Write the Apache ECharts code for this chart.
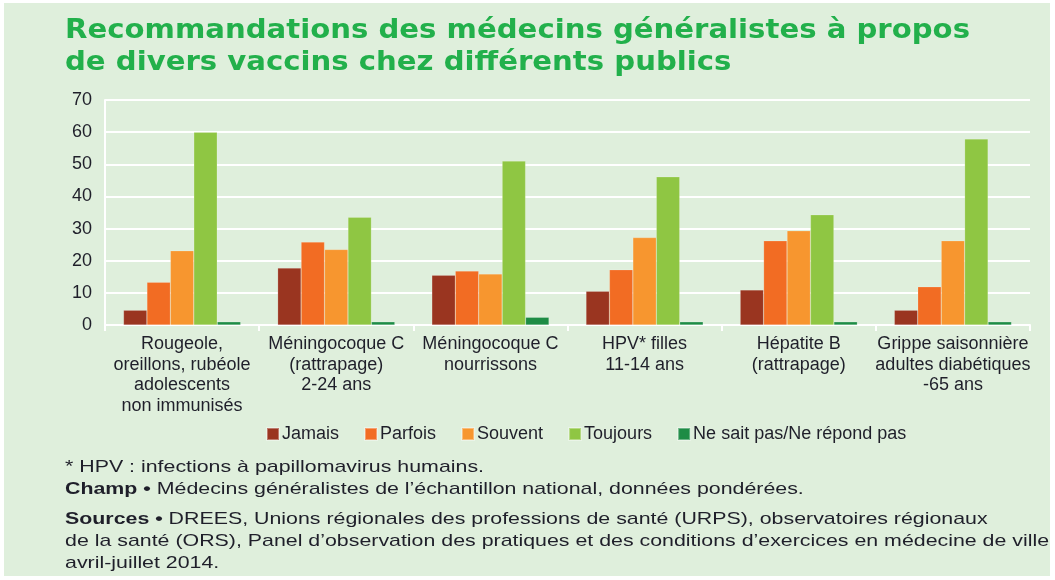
<!DOCTYPE html>
<html>
<head>
<meta charset="utf-8">
<script src="https://cdn.jsdelivr.net/npm/echarts@6/dist/echarts.min.js"></script>
<style>
html,body{margin:0;padding:0;background:#ffffff;}
#panel{position:absolute;left:4px;top:3px;width:1046px;height:573px;background:#dfefdc;}
#chart{position:absolute;left:0;top:0;width:1055px;height:580px;}
</style>
</head>
<body>
<div id="panel"></div>
<div id="chart"></div>
<script>
const categories = [
  "Rougeole,\noreillons, rubéole\nadolescents\nnon immunisés",
  "Méningocoque C\n(rattrapage)\n2-24 ans",
  "Méningocoque C\nnourrissons",
  "HPV* filles\n11-14 ans",
  "Hépatite B\n(rattrapage)",
  "Grippe saisonnière\nadultes diabétiques\n-65 ans"
];
const seriesNames = ["Jamais", "Parfois", "Souvent", "Toujours", "Ne sait pas/Ne répond pas"];
const jamais   = [4.6, 17.7, 15.5, 10.5, 10.9, 4.6];
const parfois  = [13.3, 25.8, 16.8, 17.2, 26.2, 11.9];
const souvent  = [23.1, 23.5, 15.9, 27.2, 29.3, 26.2];
const toujours = [60.0, 33.5, 51.0, 46.1, 34.3, 57.9];
const nsp      = [1.0, 1.0, 2.4, 1.0, 1.0, 1.0];
const yTicks = [0, 10, 20, 30, 40, 50, 60, 70];
const titleLines = ["Recommandations des médecins généralistes à propos", "de divers vaccins chez différents publics"];
const note1 = "* HPV : infections à papillomavirus humains.";
const note2 = "{b|Champ •} Médecins généralistes de l’échantillon national, données pondérées.";
const note3 = "{b|Sources •} DREES, Unions régionales des professions de santé (URPS), observatoires régionaux\nde la santé (ORS), Panel d’observation des pratiques et des conditions d’exercices en médecine de ville\navril-juillet 2014.";

const colors = ["#9a3520", "#f26c23", "#f7962f", "#8fc643", "#1e8c45"];
const seriesData = [jamais, parfois, souvent, toujours, nsp];
const textColor = '#1f1f2a';
const sans = "'Liberation Sans', Arial, sans-serif";
const titleFont = "bold 26px 'DejaVu Sans', Verdana, sans-serif";
const noteFont = "17px " + sans;

const ctx = document.createElement('canvas').getContext('2d');
function measure(font, t) { ctx.font = font; return ctx.measureText(t).width; }
const titleScale = 905 / measure(titleFont, titleLines[0]);
const noteScale = 419 / measure(noteFont, note1);

const chart = echarts.init(document.getElementById('chart'));
chart.setOption({
  backgroundColor: 'transparent',
  animation: false,
  legend: {
    data: seriesNames,
    left: 261, top: 420,
    icon: 'rect', itemWidth: 12, itemHeight: 12, itemGap: 25,
    textStyle: { color: textColor, fontSize: 18, fontFamily: sans, padding: [0, 0, 0, -2] }
  },
  grid: { left: 105, right: 25, top: 100, bottom: 255 },
  xAxis: {
    type: 'category',
    data: categories,
    axisLine: { lineStyle: { color: '#ffffff', width: 2 } },
    axisTick: { show: true, alignWithLabel: false, length: 6, lineStyle: { color: '#ffffff', width: 2 } },
    axisLabel: { color: textColor, fontSize: 18, fontFamily: sans, lineHeight: 20.5, margin: 9, interval: 0 }
  },
  yAxis: {
    type: 'value', min: 0, max: 70, interval: 10,
    axisLine: { show: true, lineStyle: { color: '#ffffff', width: 2 } },
    axisTick: { show: false },
    splitLine: { lineStyle: { color: '#ffffff', width: 2 } },
    axisLabel: { color: textColor, fontSize: 18, fontFamily: sans, margin: 13,
      formatter: v => yTicks.includes(v) ? String(v) : '' }
  },
  series: seriesNames.map((n, i) => ({
    name: n, type: 'bar', data: seriesData[i],
    barGap: '0%', barCategoryGap: '24%',
    itemStyle: { color: colors[i], borderColor: 'rgba(255,255,255,0.35)', borderWidth: 0.5 }
  })),
  graphic: [
    { type: 'text', x: 65, y: 15, scaleX: titleScale, style: {
      text: titleLines.join('\n'), fill: '#22b04b', font: titleFont, lineHeight: 32, verticalAlign: 'top' } },
    { type: 'text', x: 65, y: 459, scaleX: noteScale, style: { text: note1, fill: textColor, font: noteFont, verticalAlign: 'top' } },
    { type: 'text', x: 65, y: 481, scaleX: noteScale, style: {
      text: note2, fill: textColor, font: noteFont, verticalAlign: 'top',
      rich: { b: { fontWeight: 'bold', fontSize: 17, fontFamily: sans, fill: textColor } } } },
    { type: 'text', x: 65, y: 508, scaleX: noteScale, style: {
      text: note3, fill: textColor, font: noteFont, lineHeight: 22, verticalAlign: 'top',
      rich: { b: { fontWeight: 'bold', fontSize: 17, fontFamily: sans, fill: textColor, lineHeight: 22 } } } }
  ]
});
</script>
</body>
</html>
